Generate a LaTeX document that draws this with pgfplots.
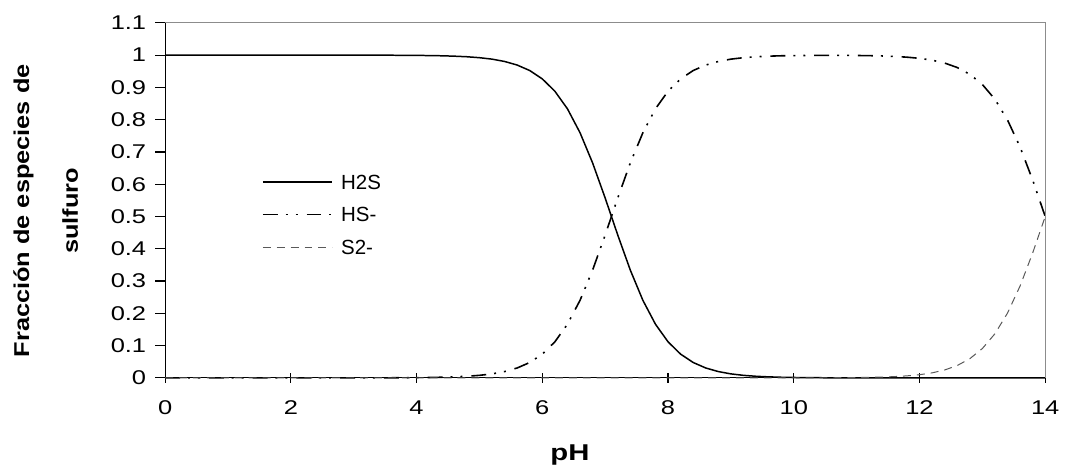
\documentclass[border=0pt]{standalone}
\usepackage{fontspec}
\setmainfont{Liberation Sans}
\newfontfamily\widefont[FakeStretch=1.28]{Liberation Sans}
\newfontfamily\labelfont[FakeStretch=1.18]{Liberation Sans}
\usepackage{pgfplots}
\usepackage{pgfplotstable}
\pgfplotsset{compat=1.18}

% pH, fraccion H2S, HS-, S2-
\pgfplotstableread{
ph   h2s    hs     s2
0.0  1.0000 0.0000 0
0.2  1.0000 0.0000 0
0.4  1.0000 0.0000 0
0.6  1.0000 0.0000 0
0.8  1.0000 0.0000 0
1.0  1.0000 0.0000 0
1.2  1.0000 0.0000 0
1.4  1.0000 0.0000 0
1.6  1.0000 0.0000 0
1.8  1.0000 0.0000 0
2.0  1.0000 0.0000 0
2.2  1.0000 0.0000 0
2.4  1.0000 0.0000 0
2.6  1.0000 0.0000 0
2.8  1.0000 0.0000 0
3.0  0.9999 0.0001 0
3.2  0.9999 0.0001 0
3.4  0.9998 0.0002 0
3.6  0.9997 0.0003 0
3.8  0.9995 0.0005 0
4.0  0.9992 0.0008 0
4.2  0.9987 0.0013 0
4.4  0.9980 0.0020 0
4.6  0.9968 0.0032 0
4.8  0.9950 0.0050 0
5.0  0.9921 0.0079 0
5.2  0.9876 0.0124 0
5.4  0.9804 0.0196 0
5.6  0.9693 0.0307 0
5.8  0.9523 0.0477 0
6.0  0.9264 0.0736 0
6.2  0.8882 0.1118 0
6.4  0.8337 0.1663 0
6.6  0.7597 0.2403 0
6.8  0.6661 0.3339 0
7.0  0.5573 0.4427 0
7.2  0.4427 0.5573 0
7.4  0.3339 0.6661 0
7.6  0.2403 0.7597 0
7.8  0.1663 0.8337 0
8.0  0.1118 0.8882 0
8.2  0.0736 0.9264 0
8.4  0.0477 0.9523 0
8.6  0.0307 0.9693 0
8.8  0.0196 0.9804 0
9.0  0.0124 0.9876 0
9.2  0.0079 0.9921 0
9.4  0.0050 0.9950 0
9.6  0.0032 0.9968 0
9.8  0.0020 0.9980 0
10.0 0.0013 0.9986 0.0001
10.2 0.0008 0.9990 0.0002
10.4 0.0005 0.9992 0.0003
10.6 0.0003 0.9993 0.0004
10.8 0.0002 0.9992 0.0006
11.0 0.0001 0.9989 0.0010
11.2 0.0000 0.9984 0.0016
11.4 0.0000 0.9975 0.0025
11.6 0.0000 0.9960 0.0040
11.8 0.0000 0.9937 0.0063
12.0 0.0000 0.9901 0.0099
12.2 0.0000 0.9844 0.0156
12.4 0.0000 0.9755 0.0245
12.6 0.0000 0.9617 0.0383
12.8 0.0000 0.9406 0.0594
13.0 0.0000 0.9091 0.0909
13.2 0.0000 0.8632 0.1368
13.4 0.0000 0.7992 0.2008
13.6 0.0000 0.7153 0.2847
13.8 0.0000 0.6131 0.3869
14.0 0.0000 0.5000 0.5000
}\fracciones

\begin{document}
\begin{tikzpicture}
\begin{axis}[
  width=442.5pt, height=178.5pt, scale only axis,
  xmin=0, xmax=14, ymin=0, ymax=1.1,
  xtick={0,2,4,6,8,10,12,14},
  ytick={0,0.1,0.2,0.3,0.4,0.5,0.6,0.7,0.8,0.9,1,1.1},
  axis x line*=bottom, axis y line*=left,
  axis line style={black, line width=0.6pt, -},
  tick align=outside, major tick length=5pt,
  tick style={black, line width=0.6pt},
  xtick style={yshift=2.5pt},
  /pgf/number format/assume math mode=true,
  ticklabel style={font=\widefont\fontsize{10}{12}\selectfont},
  xticklabel style={yshift=-3pt},
  yticklabel style={xshift=-1pt},
  xlabel={pH},
  xlabel style={font=\widefont\fontsize{11.5}{13}\selectfont\bfseries,
    at={(axis description cs:0.46,-0.2325)}, anchor=base},
  ylabel={Fracción de especies de\\sulfuro},
  ylabel style={font=\labelfont\fontsize{10.8}{24.5}\selectfont\bfseries, align=center,
    at={(axis description cs:-0.1729,0.4706)}, anchor=north, inner sep=0pt},
  clip=false,
  legend image code/.code={\draw[#1] (0pt,0pt) -- (35pt,0pt); \path (39pt,0pt);},
  legend style={at={(axis description cs:0.1096,0.574)}, anchor=north west,
    draw=none, fill=none, inner sep=0pt, row sep=9.2pt, column sep=0pt,
    font=\fontsize{10.3}{12}\selectfont,
    nodes={inner sep=0pt, text height=7.3pt, text depth=0pt}},
  legend cell align=left,
]
\addplot[black, line width=0.75pt] table[x=ph, y=h2s] {\fracciones};
\addlegendentry{H2S}
\addplot[black, line width=0.8pt,
  dash pattern=on 7.5pt off 4pt on 1pt off 4pt on 1pt off 4.5pt] table[x=ph, y=hs] {\fracciones};
\addlegendentry{HS-}
\addplot[black!65, line width=0.5pt, dash pattern=on 4pt off 3pt] table[x=ph, y=s2] {\fracciones};
\addlegendentry{S2-}
\draw[black!45, line width=0.6pt] (rel axis cs:0,1) -- (rel axis cs:1,1) -- (rel axis cs:1,0);
\path (rel axis cs:-0.1876,-0.2465) rectangle (rel axis cs:1.0169,1.0644);
\end{axis}
\end{tikzpicture}
\end{document}
